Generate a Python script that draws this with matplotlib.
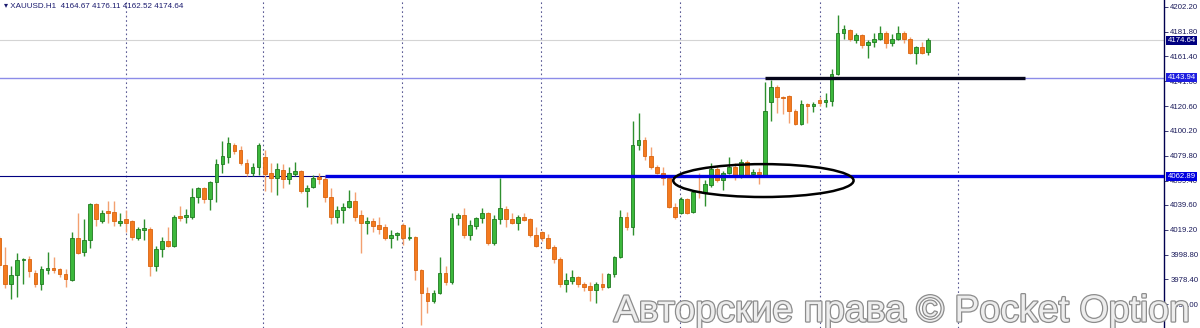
import numpy as np
import matplotlib
matplotlib.use("Agg")
import matplotlib.pyplot as plt
from matplotlib.patches import Ellipse
from matplotlib.transforms import blended_transform_factory
import matplotlib.patheffects as pe

# XAUUSD H1 candles (oldest first)
opens = [4012, 3990, 3975, 3982, 3994, 3995, 3984, 3975, 3986, 3988, 3987, 3983, 3978, 4012, 4001, 4011,
         4040, 4026, 4034, 4034, 4025, 4028, 4026, 4012, 4019, 4020, 3989, 4003, 4010, 4006, 4030, 4030,
         4030, 4046, 4053, 4044, 4058, 4073, 4079, 4089, 4085, 4074, 4066, 4071, 4079, 4066, 4062, 4068,
         4061, 4065, 4067, 4051, 4054, 4062, 4061, 4046, 4030, 4035, 4038, 4043, 4031, 4025, 4026, 4023,
         4021, 4012, 4015, 4023, 4012, 4013, 3986, 3967, 3961, 3967, 3984, 3976, 4029, 4031, 4015, 4022,
         4029, 4033, 4008, 4028, 4036, 4028, 4025, 4030, 4028, 4015, 4017, 4012, 4005, 3995, 3975, 3977,
         3980, 3975, 3973, 3970, 3975, 3972, 3983, 3997, 4030, 4021, 4089, 4093, 4080, 4071, 4066, 4062,
         4038, 4033, 4044, 4034, 4051, 4049, 4056, 4069, 4060, 4066, 4071, 4063, 4075, 4065, 4066, 4064,
         4124, 4136, 4128, 4129, 4117, 4106, 4122, 4121, 4126, 4124, 4125, 4147, 4181, 4183, 4175, 4179,
         4171, 4173, 4176, 4181, 4172, 4176, 4181, 4176, 4164, 4169, 4164.67]
highs = [4014, 4005, 3989, 4000, 3996, 3998, 3986, 3989, 4001, 3997, 3988, 3987, 4017, 4033, 4028, 4041,
         4041, 4035, 4043, 4043, 4033, 4035, 4027, 4021, 4028, 4021, 4006, 4013, 4021, 4031, 4039, 4036,
         4053, 4054, 4054, 4059, 4077, 4092, 4095, 4090, 4088, 4077, 4074, 4090, 4085, 4074, 4074, 4073,
         4071, 4075, 4068, 4056, 4064, 4066, 4063, 4053, 4039, 4041, 4052, 4050, 4035, 4030, 4029, 4030,
         4024, 4019, 4017, 4025, 4021, 4014, 3987, 3972, 3970, 3997, 3989, 4033, 4033, 4037, 4027, 4030,
         4037, 4034, 4031, 4062, 4039, 4033, 4031, 4033, 4029, 4021, 4018, 4016, 4007, 3997, 3984, 3986,
         3981, 3976, 3976, 3976, 3984, 3984, 3998, 4035, 4034, 4108, 4115, 4095, 4087, 4072, 4071, 4063,
         4041, 4046, 4045, 4052, 4066, 4060, 4074, 4071, 4067, 4079, 4074, 4077, 4076, 4069, 4070, 4140,
         4142, 4138, 4129, 4130, 4118, 4126, 4123, 4124, 4128, 4131, 4151, 4195, 4187, 4184, 4181, 4180,
         4175, 4181, 4186, 4182, 4180, 4186, 4182, 4177, 4170, 4173, 4176.11]
lows = [3988, 3971, 3962, 3964, 3975, 3980, 3972, 3970, 3983, 3984, 3980, 3972, 3977, 3999, 3998, 4004,
        4022, 4025, 4025, 4022, 4022, 4017, 4011, 4011, 4011, 3981, 3985, 3997, 4005, 4005, 4026, 4025,
        4028, 4041, 4041, 4035, 4042, 4066, 4074, 4081, 4072, 4063, 4063, 4064, 4051, 4050, 4048, 4053,
        4057, 4063, 4049, 4038, 4053, 4057, 4042, 4024, 4025, 4025, 4037, 4026, 4000, 4016, 4017, 4016,
        4011, 4004, 4011, 4007, 4011, 3978, 3941, 3951, 3959, 3966, 3974, 3975, 4023, 4012, 4011, 4020,
        4025, 4007, 4007, 4024, 4021, 4024, 4019, 4026, 4013, 4005, 4010, 4003, 3992, 3972, 3968, 3975,
        3972, 3969, 3961, 3959, 3970, 3971, 3980, 3996, 4019, 4015, 4085, 4076, 4069, 4065, 4056, 4037,
        4028, 4032, 4032, 4033, 4045, 4039, 4054, 4058, 4052, 4065, 4060, 4062, 4063, 4063, 4057, 4063,
        4108, 4115, 4114, 4107, 4105, 4105, 4107, 4116, 4121, 4120, 4121, 4146, 4176, 4174, 4172, 4168,
        4160, 4169, 4175, 4168, 4170, 4175, 4172, 4163, 4155, 4163, 4162.52]
closes = [3990, 3975, 3982, 3994, 3995, 3985, 3975, 3987, 3988, 3986, 3983, 3979, 4012, 4000, 4011, 4040,
          4028, 4033, 4033, 4026, 4026, 4025, 4013, 4020, 4020, 3989, 4003, 4010, 4006, 4030, 4029, 4031,
          4046, 4053, 4044, 4058, 4073, 4080, 4090, 4084, 4074, 4066, 4071, 4089, 4065, 4062, 4069, 4061,
          4066, 4067, 4051, 4053, 4062, 4061, 4046, 4030, 4035, 4038, 4043, 4030, 4025, 4026, 4022, 4020,
          4012, 4015, 4016, 4012, 4013, 3986, 3967, 3961, 3967, 3984, 3976, 4029, 4031, 4015, 4023, 4029,
          4033, 4008, 4028, 4037, 4028, 4025, 4030, 4027, 4015, 4006, 4012, 4004, 3995, 3975, 3978, 3980,
          3975, 3972, 3970, 3975, 3972, 3983, 3997, 4030, 4021, 4089, 4093, 4080, 4071, 4066, 4062, 4038,
          4030, 4044, 4033, 4050, 4050, 4057, 4069, 4060, 4066, 4071, 4063, 4075, 4064, 4066, 4065, 4117,
          4136, 4128, 4127, 4117, 4106, 4122, 4121, 4122, 4123, 4126, 4147, 4181, 4184, 4176, 4179, 4171,
          4173, 4176, 4181, 4172, 4176, 4181, 4176, 4164, 4169, 4164, 4174.64]

# Right price scale
tick_vals = [4202.2, 4181.8, 4161.4, 4141.0, 4120.6, 4100.2, 4079.8, 4059.4, 4039.6, 4019.2, 3998.8, 3978.4, 3958.0]
tick_txt = ["4202.20", "4181.80", "4161.40", "4141.00", "4120.60", "4100.20", "4079.80", "4059.40",
            "4039.60", "4019.20", "3998.80", "3978.40", "3958.00"]

# Lines drawn on the chart
bid = 4174.64
resist = 4143.94
support = 4062.89
sep_bars = [21.0, 43.7, 66.8, 89.8, 112.9, 136.0, 159.0]

o = np.array(opens); h = np.array(highs); l = np.array(lows); c = np.array(closes)
x = np.arange(len(c))
up = c >= o

fig = plt.figure(figsize=(12, 3.28), dpi=100)
ax = fig.add_axes([0, 0, 1164 / 1200, 1])
ax.set_xlim(0.12, 193.12)
ax.set_ylim(3938.5, 4207.7)

# Vertical period separators
for s in sep_bars:
    ax.axvline(s, color="#30307a", lw=0.8, ls=(0, (1.5, 2.5)), alpha=0.8, zorder=1)

# Bid line and horizontal levels
ax.axhline(bid, color="#d4d4d4", lw=0.8, zorder=1)
ax.axhline(resist, color="#8c8ce8", lw=1.0, zorder=1)
ax.axhline(support, color="#000080", lw=0.8, zorder=1)
ax.plot([54, 193.12], [support, support], color="#0000e0", lw=2.4, zorder=4, solid_capstyle="butt")
ax.plot([127, 170.1], [resist - 0.6, resist - 0.6], color="#05051a", lw=2.4, zorder=4, solid_capstyle="butt")

# Candles
g_body, g_edge = "#3cb83c", "#1f7a1f"
r_body, r_edge = "#f47a1f", "#d86410"
ax.vlines(x[up], l[up], h[up], color="#2e8f2e", lw=1.0, zorder=2)
ax.vlines(x[~up], l[~up], h[~up], color="#f3a070", lw=1.0, zorder=2)
body_lo = np.minimum(o, c)
body_h = np.maximum(np.abs(c - o), 1.2)
ax.bar(x[up], body_h[up], bottom=body_lo[up], width=0.62, color=g_body, edgecolor=g_edge, lw=0.6, zorder=3)
ax.bar(x[~up], body_h[~up], bottom=body_lo[~up], width=0.62, color=r_body, edgecolor=r_edge, lw=0.6, zorder=3)

# Hand drawn ellipse around the consolidation
ax.add_patch(Ellipse((126.7, 4059.5), 29.9, 27, fill=False, ec="black", lw=1.8, zorder=5))

# Axes look
for side in ["top", "left", "bottom"]:
    ax.spines[side].set_visible(False)
ax.spines["right"].set_color("#000050")
ax.spines["right"].set_linewidth(1.0)
ax.set_xticks([])
ax.yaxis.tick_right()
ax.set_yticks(tick_vals)
ax.set_yticklabels(tick_txt)
ax.tick_params(axis="y", direction="out", length=3, width=0.6, pad=1.5, colors="#1a1a5a",
               labelsize=5.6)
for t in ax.get_yticklabels():
    t.set_fontfamily("Liberation Sans")

# Price tags on the scale
tr = blended_transform_factory(ax.transAxes, ax.transData)
for val, col in [(bid, "#000080"), (resist, "#1e1ee0"), (support, "#0000e0")]:
    ax.text(1.003, val, f"{val:.2f}", transform=tr, ha="left", va="center", fontsize=5.6,
            family="Liberation Sans", color="white", clip_on=False, zorder=6,
            bbox=dict(boxstyle="square,pad=0.15", fc=col, ec="none"))

# Header
fig.text(0.003, 0.992, "\u25be XAUUSD.H1  4164.67 4176.11 4162.52 4174.64", fontsize=5.8,
         family=["Liberation Sans", "DejaVu Sans"], color="#1a1a6e", va="top", ha="left")

# Watermark
fig.text(0.992, 0.02, "Авторские права © Pocket Option", fontsize=27, family="Liberation Sans",
         color="#ededed", ha="right", va="baseline", zorder=10,
         path_effects=[pe.withStroke(linewidth=1.8, foreground="#8c8c8c")])

fig.savefig("out.png", dpi=100, facecolor="white")
